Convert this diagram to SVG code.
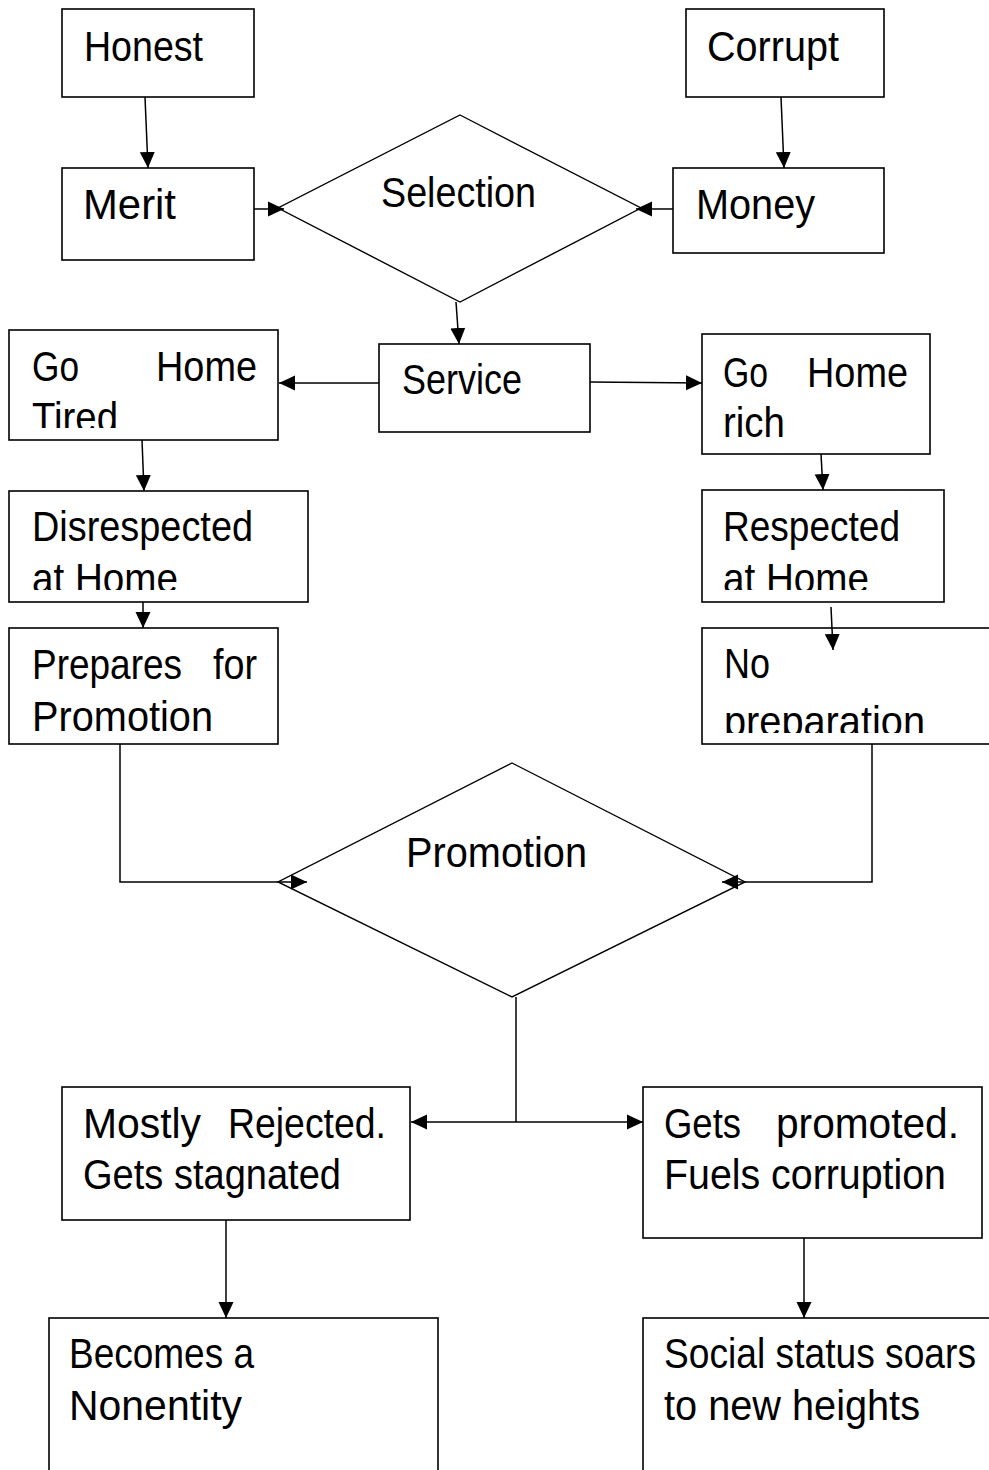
<svg xmlns="http://www.w3.org/2000/svg" width="989" height="1470" viewBox="0 0 989 1470">
<style>
.box{fill:#fff;stroke:#000;stroke-width:1.6}
.dia{fill:#fff;stroke:#000;stroke-width:1.4}
.t{font-family:"Liberation Sans",Arial,sans-serif;font-size:42px;fill:#000}
.c{fill:none;stroke:#000;stroke-width:1.5}
</style>
<defs>
<marker id="ah" markerWidth="17" markerHeight="16" refX="16" refY="8" orient="auto" markerUnits="userSpaceOnUse">
<path d="M0,0.5 L16,8 L0,15.5 Z" fill="#000"/>
</marker>
<clipPath id="clipTired"><rect x="0" y="330" width="300" height="98"/></clipPath>
<clipPath id="clipDis"><rect x="0" y="491" width="320" height="99"/></clipPath>
<clipPath id="clipRes"><rect x="690" y="490" width="260" height="100"/></clipPath>
<clipPath id="clipPrep"><rect x="690" y="628" width="300" height="105"/></clipPath>
</defs>
<rect width="989" height="1470" fill="#fff"/>

<g id="honest"><rect class="box" x="62" y="9" width="192" height="88"/><text class="t" x="84" y="61" textLength="119" lengthAdjust="spacingAndGlyphs">Honest</text></g>
<g id="corrupt"><rect class="box" x="686" y="9" width="198" height="88"/><text class="t" x="707" y="61" textLength="132" lengthAdjust="spacingAndGlyphs">Corrupt</text></g>
<g id="merit"><rect class="box" x="62" y="168" width="192" height="92"/><text class="t" x="83" y="219" textLength="93" lengthAdjust="spacingAndGlyphs">Merit</text></g>
<g id="money"><rect class="box" x="673" y="168" width="211" height="85"/><text class="t" x="696" y="219" textLength="119" lengthAdjust="spacingAndGlyphs">Money</text></g>
<g id="selection"><polygon class="dia" points="460,115 641,208 460,302 278,208"/><text class="t" x="381" y="207" textLength="155" lengthAdjust="spacingAndGlyphs">Selection</text></g>
<g id="service"><rect class="box" x="379" y="344" width="211" height="88"/><text class="t" x="402" y="394" textLength="120" lengthAdjust="spacingAndGlyphs">Service</text></g>
<g id="gohome-tired"><rect class="box" x="9" y="330" width="269" height="110"/>
<text class="t" x="32" y="381" textLength="47" lengthAdjust="spacingAndGlyphs">Go</text>
<text class="t" x="257" y="381" text-anchor="end" textLength="101" lengthAdjust="spacingAndGlyphs">Home</text>
<text class="t" x="32" y="432" textLength="86" lengthAdjust="spacingAndGlyphs" clip-path="url(#clipTired)">Tired</text></g>
<g id="gohome-rich"><rect class="box" x="702" y="334" width="228" height="120"/>
<text class="t" x="723" y="387" textLength="45" lengthAdjust="spacingAndGlyphs">Go</text>
<text class="t" x="908" y="387" text-anchor="end" textLength="101" lengthAdjust="spacingAndGlyphs">Home</text>
<text class="t" x="723" y="437" textLength="62" lengthAdjust="spacingAndGlyphs">rich</text></g>
<g id="disrespected"><rect class="box" x="9" y="491" width="299" height="111"/>
<text class="t" x="32" y="541" textLength="221" lengthAdjust="spacingAndGlyphs">Disrespected</text>
<text class="t" x="32" y="593" textLength="146" lengthAdjust="spacingAndGlyphs" clip-path="url(#clipDis)">at Home</text></g>
<g id="respected"><rect class="box" x="702" y="490" width="242" height="112"/>
<text class="t" x="723" y="541" textLength="177" lengthAdjust="spacingAndGlyphs">Respected</text>
<text class="t" x="723" y="593" textLength="146" lengthAdjust="spacingAndGlyphs" clip-path="url(#clipRes)">at Home</text></g>
<g id="prepares"><rect class="box" x="9" y="628" width="269" height="116"/>
<text class="t" x="32" y="679" textLength="150" lengthAdjust="spacingAndGlyphs">Prepares</text>
<text class="t" x="257" y="679" text-anchor="end" textLength="44" lengthAdjust="spacingAndGlyphs">for</text>
<text class="t" x="32" y="731" textLength="181" lengthAdjust="spacingAndGlyphs">Promotion</text></g>
<g id="no-preparation"><rect class="box" x="702" y="628" width="292" height="116"/>
<text class="t" x="724" y="678" textLength="46" lengthAdjust="spacingAndGlyphs">No</text>
<text class="t" x="724" y="736" textLength="201" lengthAdjust="spacingAndGlyphs" clip-path="url(#clipPrep)">preparation</text></g>
<g id="promotion"><polygon class="dia" points="512,763 745,882 512,997 278,882"/><text class="t" x="406" y="867" textLength="181" lengthAdjust="spacingAndGlyphs">Promotion</text></g>
<g id="rejected"><rect class="box" x="62" y="1087" width="348" height="133"/>
<text class="t" x="83" y="1138" textLength="118" lengthAdjust="spacingAndGlyphs">Mostly</text>
<text class="t" x="386" y="1138" text-anchor="end" textLength="158" lengthAdjust="spacingAndGlyphs">Rejected.</text>
<text class="t" x="83" y="1189" textLength="258" lengthAdjust="spacingAndGlyphs">Gets stagnated</text></g>
<g id="promoted"><rect class="box" x="643" y="1087" width="339" height="151"/>
<text class="t" x="664" y="1138" textLength="77" lengthAdjust="spacingAndGlyphs">Gets</text>
<text class="t" x="959" y="1138" text-anchor="end" textLength="183" lengthAdjust="spacingAndGlyphs">promoted.</text>
<text class="t" x="664" y="1189" textLength="282" lengthAdjust="spacingAndGlyphs">Fuels corruption</text></g>
<g id="nonentity"><rect class="box" x="49" y="1318" width="389" height="160"/>
<text class="t" x="69" y="1368" textLength="185" lengthAdjust="spacingAndGlyphs">Becomes a</text>
<text class="t" x="69" y="1420" textLength="173" lengthAdjust="spacingAndGlyphs">Nonentity</text></g>
<g id="social-status"><rect class="box" x="643" y="1318" width="352" height="160"/>
<text class="t" x="664" y="1368" textLength="312" lengthAdjust="spacingAndGlyphs">Social status soars</text>
<text class="t" x="664" y="1420" textLength="256" lengthAdjust="spacingAndGlyphs">to new heights</text></g>

<g id="connectors">
<line class="c" x1="145" y1="97" x2="148" y2="168" marker-end="url(#ah)"/>
<line class="c" x1="781" y1="97" x2="784" y2="168" marker-end="url(#ah)"/>
<line class="c" x1="254" y1="209" x2="284" y2="209" marker-end="url(#ah)"/>
<line class="c" x1="673" y1="209" x2="636" y2="209" marker-end="url(#ah)"/>
<line class="c" x1="456" y1="302" x2="459" y2="344" marker-end="url(#ah)"/>
<line class="c" x1="379" y1="383" x2="279" y2="383" marker-end="url(#ah)"/>
<line class="c" x1="590" y1="382" x2="702" y2="383" marker-end="url(#ah)"/>
<line class="c" x1="142" y1="440" x2="144" y2="491" marker-end="url(#ah)"/>
<line class="c" x1="821" y1="454" x2="823" y2="490" marker-end="url(#ah)"/>
<line class="c" x1="143" y1="602" x2="143" y2="628" marker-end="url(#ah)"/>
<line class="c" x1="831" y1="607" x2="833" y2="650" marker-end="url(#ah)"/>
<polyline class="c" points="120,744 120,882 307,882" marker-end="url(#ah)"/>
<polyline class="c" points="872,744 872,882 722,882" marker-end="url(#ah)"/>
<line class="c" x1="516" y1="997" x2="516" y2="1122"/>
<line class="c" x1="516" y1="1122" x2="411" y2="1122" marker-end="url(#ah)"/>
<line class="c" x1="516" y1="1122" x2="643" y2="1122" marker-end="url(#ah)"/>
<line class="c" x1="226" y1="1220" x2="226" y2="1318" marker-end="url(#ah)"/>
<line class="c" x1="804" y1="1238" x2="804" y2="1318" marker-end="url(#ah)"/>
</g>
</svg>
